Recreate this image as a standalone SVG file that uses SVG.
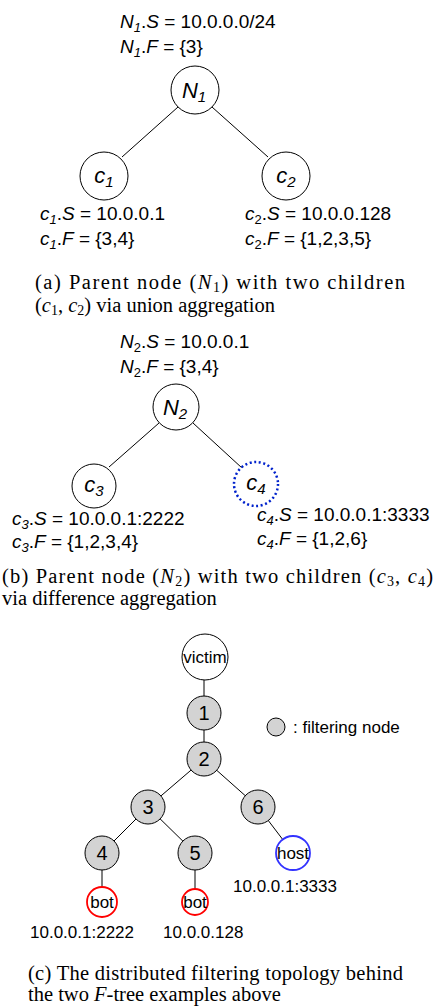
<svg xmlns="http://www.w3.org/2000/svg" width="437" height="1006" viewBox="0 0 437 1006">
<style>
.lbl{font-family:"Liberation Sans",Arial,sans-serif;font-size:19px;fill:#000}
.nl{font-family:"Liberation Sans",Arial,sans-serif;font-size:22px;font-style:italic;fill:#000}
.nn{font-family:"Liberation Sans",Arial,sans-serif;font-size:20px;fill:#000}
.sm{font-family:"Liberation Sans",Arial,sans-serif;font-size:17px;fill:#000}
.cap{font-family:"Liberation Serif","Times New Roman",serif;font-size:20.5px;fill:#000}
.it{font-style:italic}
.c{fill:#fff;stroke:#000;stroke-width:1}
.g{fill:#d3d3d3;stroke:#000;stroke-width:1}
.e{stroke:#000;stroke-width:1;fill:none}
</style>
<rect width="437" height="1006" fill="#fff"/>
<g id="connectors">
<line class="e" x1="178" y1="107" x2="122" y2="157"/>
<line class="e" x1="212" y1="107" x2="268" y2="157"/>
<line class="e" x1="159" y1="423" x2="109" y2="467"/>
<line class="e" x1="193" y1="423" x2="242" y2="468"/>
<line class="e" x1="204" y1="680" x2="204" y2="713"/>
<line class="e" x1="204" y1="713" x2="204" y2="759"/>
<line class="e" x1="204" y1="759" x2="148" y2="807"/>
<line class="e" x1="204" y1="759" x2="258" y2="807"/>
<line class="e" x1="148" y1="807" x2="102" y2="853"/>
<line class="e" x1="148" y1="807" x2="195" y2="853"/>
<line class="e" x1="258" y1="807" x2="293" y2="853"/>
<line class="e" x1="102" y1="853" x2="102" y2="902"/>
<line class="e" x1="195" y1="853" x2="195" y2="902"/>
</g>
<g id="N1">
<circle class="c" cx="195" cy="90" r="24"/>
<text class="nl" x="194" y="98" text-anchor="middle">N<tspan font-size="15" dy="4">1</tspan></text>
<text class="lbl" x="120" y="28"><tspan class="it">N</tspan><tspan class="it" font-size="13" dy="4">1</tspan><tspan dy="-4">.</tspan><tspan class="it">S</tspan> = 10.0.0.0/24</text>
<text class="lbl" x="120" y="53"><tspan class="it">N</tspan><tspan class="it" font-size="13" dy="4">1</tspan><tspan dy="-4">.</tspan><tspan class="it">F</tspan> = {3}</text>
</g>
<g id="c1">
<circle class="c" cx="104" cy="176" r="24"/>
<text class="nl" x="104" y="183" text-anchor="middle">c<tspan font-size="15" dy="4">1</tspan></text>
<text class="lbl" x="40" y="220"><tspan class="it">c</tspan><tspan class="it" font-size="13" dy="4">1</tspan><tspan dy="-4">.</tspan><tspan class="it">S</tspan> = 10.0.0.1</text>
<text class="lbl" x="40" y="245"><tspan class="it">c</tspan><tspan class="it" font-size="13" dy="4">1</tspan><tspan dy="-4">.</tspan><tspan class="it">F</tspan> = {3,4}</text>
</g>
<g id="c2">
<circle class="c" cx="286" cy="176" r="24"/>
<text class="nl" x="286" y="183" text-anchor="middle">c<tspan font-size="15" dy="4">2</tspan></text>
<text class="lbl" x="245" y="220"><tspan class="it">c</tspan><tspan font-size="13" dy="4">2</tspan><tspan dy="-4">.</tspan><tspan class="it">S</tspan> = 10.0.0.128</text>
<text class="lbl" x="245" y="245"><tspan class="it">c</tspan><tspan font-size="13" dy="4">2</tspan><tspan dy="-4">.</tspan><tspan class="it">F</tspan> = {1,2,3,5}</text>
</g>
<g id="caption-a">
<text class="cap" x="35" y="289" textLength="370" lengthAdjust="spacing">(a) Parent node (<tspan class="it">N</tspan><tspan font-size="14" dy="3">1</tspan><tspan dy="-3">)</tspan> with two children</text>
<text class="cap" x="35" y="312">(<tspan class="it">c</tspan><tspan font-size="14" dy="3">1</tspan><tspan dy="-3">,</tspan> <tspan class="it">c</tspan><tspan font-size="14" dy="3">2</tspan><tspan dy="-3">)</tspan> via union aggregation</text>
</g>
<g id="N2">
<circle class="c" cx="176" cy="407" r="23"/>
<text class="nl" x="175" y="415" text-anchor="middle">N<tspan font-size="15" dy="4">2</tspan></text>
<text class="lbl" x="120" y="348"><tspan class="it">N</tspan><tspan font-size="13" dy="4">2</tspan><tspan dy="-4">.</tspan><tspan class="it">S</tspan> = 10.0.0.1</text>
<text class="lbl" x="120" y="373"><tspan class="it">N</tspan><tspan font-size="13" dy="4">2</tspan><tspan dy="-4">.</tspan><tspan class="it">F</tspan> = {3,4}</text>
</g>
<g id="c3">
<circle class="c" cx="94" cy="486" r="22"/>
<text class="nl" x="94" y="492" text-anchor="middle">c<tspan font-size="15" dy="4">3</tspan></text>
<text class="lbl" x="12" y="525"><tspan class="it">c</tspan><tspan class="it" font-size="13" dy="4">3</tspan><tspan dy="-4">.</tspan><tspan class="it">S</tspan> = 10.0.0.1:2222</text>
<text class="lbl" x="12" y="548"><tspan class="it">c</tspan><tspan class="it" font-size="13" dy="4">3</tspan><tspan dy="-4">.</tspan><tspan class="it">F</tspan> = {1,2,3,4}</text>
</g>
<g id="c4">
<circle cx="256" cy="484" r="22" fill="#fff" stroke="#0022cc" stroke-width="2.5" stroke-dasharray="2,2.6"/>
<text class="nl" x="256" y="490" text-anchor="middle">c<tspan font-size="15" dy="4">4</tspan></text>
<text class="lbl" x="257" y="521"><tspan class="it">c</tspan><tspan class="it" font-size="13" dy="4">4</tspan><tspan dy="-4">.</tspan><tspan class="it">S</tspan> = 10.0.0.1:3333</text>
<text class="lbl" x="257" y="545"><tspan class="it">c</tspan><tspan class="it" font-size="13" dy="4">4</tspan><tspan dy="-4">.</tspan><tspan class="it">F</tspan> = {1,2,6}</text>
</g>
<g id="caption-b">
<text class="cap" x="2" y="583" textLength="431" lengthAdjust="spacing">(b) Parent node (<tspan class="it">N</tspan><tspan font-size="14" dy="3">2</tspan><tspan dy="-3">)</tspan> with two children (<tspan class="it">c</tspan><tspan font-size="14" dy="3">3</tspan><tspan dy="-3">,</tspan> <tspan class="it">c</tspan><tspan font-size="14" dy="3">4</tspan><tspan dy="-3">)</tspan></text>
<text class="cap" x="2" y="605">via difference aggregation</text>
</g>
<g id="victim">
<circle class="c" cx="205" cy="657" r="23"/>
<text class="sm" x="205" y="663" text-anchor="middle">victim</text>
</g>
<g id="n1"><circle class="g" cx="204" cy="713" r="17"/><text class="nn" x="204" y="720" text-anchor="middle">1</text></g>
<g id="n2"><circle class="g" cx="204" cy="759" r="17"/><text class="nn" x="204" y="766" text-anchor="middle">2</text></g>
<g id="n3"><circle class="g" cx="148" cy="807" r="17"/><text class="nn" x="148" y="814" text-anchor="middle">3</text></g>
<g id="n6"><circle class="g" cx="258" cy="807" r="17"/><text class="nn" x="258" y="814" text-anchor="middle">6</text></g>
<g id="n4"><circle class="g" cx="102" cy="853" r="17"/><text class="nn" x="102" y="860" text-anchor="middle">4</text></g>
<g id="n5"><circle class="g" cx="195" cy="853" r="17"/><text class="nn" x="195" y="860" text-anchor="middle">5</text></g>
<g id="host">
<circle cx="293" cy="853" r="17" fill="#fff" stroke="#3333ff" stroke-width="1.8"/>
<text class="sm" x="293" y="859" text-anchor="middle">host</text>
<text class="sm" x="233" y="892">10.0.0.1:3333</text>
</g>
<g id="bot1">
<circle cx="102" cy="902" r="15" fill="#fff" stroke="#ff0000" stroke-width="1.8"/>
<text class="sm" x="102" y="908" text-anchor="middle">bot</text>
<text class="sm" x="134" y="938" text-anchor="end">10.0.0.1:2222</text>
</g>
<g id="bot2">
<circle cx="195" cy="902" r="13" fill="#fff" stroke="#ff0000" stroke-width="1.8"/>
<text class="sm" x="195" y="908" text-anchor="middle">bot</text>
<text class="sm" x="163" y="938">10.0.0.128</text>
</g>
<g id="legend">
<circle class="g" cx="276" cy="727" r="9"/>
<text class="sm" x="293" y="733" font-size="16">: filtering node</text>
</g>
<g id="caption-c">
<text class="cap" x="28" y="980" textLength="375" lengthAdjust="spacing">(c) The distributed filtering topology behind</text>
<text class="cap" x="28" y="1001">the two <tspan class="it">F</tspan>-tree examples above</text>
</g>
</svg>
